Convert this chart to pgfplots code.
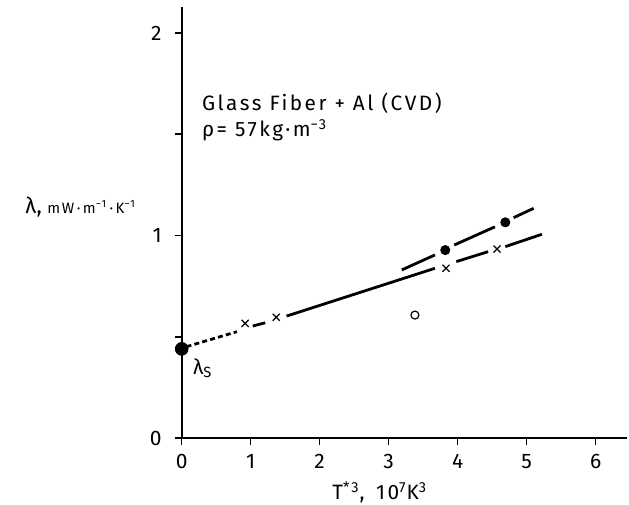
\documentclass[border=0pt]{standalone}
\usepackage{fontspec}
\setmainfont{Fira Sans}
\newfontfamily\spaced[LetterSpace=12]{Fira Sans}
\usepackage{pgfplots}
\pgfplotsset{compat=1.18}
\begin{document}
\begin{tikzpicture}
\useasboundingbox (-90.85pt,-33.5pt) rectangle (223.65pt,219pt);
\begin{axis}[
  at={(0pt,0pt)}, anchor=south west,
  x=34.5pt, y=101.25pt,
  xmin=0, xmax=6.45, ymin=0, ymax=2.13,
  axis x line=bottom, axis y line=left,
  axis line style={line width=1pt, -},
  xtick={0,1,2,3,4,5,6},
  ytick={0,0.5,1,1.5,2}, yticklabels={0,,1,,2},
  tick style={line width=0.8pt, black},
  tick align=outside, major tick length=3.5pt,
  ticklabel style={font=\fontsize{10.5}{12}\selectfont},
  yticklabel style={xshift=-3pt},
  xticklabel style={yshift=-1pt},
  /pgf/number format/assume math mode=true,
  clip=false,
]
% lower line (x markers)
\addplot[line width=1.4pt, dash pattern=on 2.5pt off 1.6pt] coordinates {(0.07,0.451) (0.80,0.525)};
\addplot[line width=1.4pt] coordinates {(1.03,0.553) (1.21,0.569)};
\addplot[line width=1.4pt] coordinates {(1.52,0.602) (3.67,0.838)};
\addplot[line width=1.4pt] coordinates {(3.98,0.871) (4.44,0.920)};
\addplot[line width=1.4pt] coordinates {(4.69,0.945) (5.22,1.006)};
% upper line (filled dots)
\addplot[line width=1.4pt] coordinates {(3.19,0.830) (3.67,0.904)};
\addplot[line width=1.4pt] coordinates {(3.95,0.953) (4.54,1.043)};
\addplot[line width=1.4pt] coordinates {(4.81,1.088) (5.10,1.134)};
% markers
\addplot[only marks, mark=*, mark size=3.2pt] coordinates {(0,0.44)};
\addplot[only marks, mark=*, mark size=2.3pt] coordinates {(3.82,0.928) (4.69,1.065)};
\addplot[only marks, mark=x, mark size=2.5pt, line width=0.6pt] coordinates {(0.92,0.566) (1.37,0.596) (3.83,0.838) (4.57,0.933)};
\addplot[only marks, mark=o, mark size=2pt, line width=0.6pt] coordinates {(3.38,0.607)};
% texts
\node[anchor=base west, font=\spaced\fontsize{10.4}{11}\selectfont, inner sep=0pt] at (axis cs:0.29,1.615) {Glass Fiber + Al (CVD)};
\node[anchor=base west, font=\spaced\fontsize{10.4}{11}\selectfont, inner sep=0pt] at (axis cs:0.29,1.49) {ρ= 57kg·m\textsuperscript{−3}};
\node[anchor=west, font=\fontsize{10.5}{11}\selectfont, inner sep=0pt] at (axis cs:0.16,0.346) {λ\textsubscript{S}};
\node[anchor=base west, inner sep=0pt] at (axis cs:-2.27,1.11) {{\fontsize{11}{12}\selectfont λ,} {\spaced\fontsize{7.5}{9}\selectfont mW\,·\,m\textsuperscript{−1}\,·\,K\textsuperscript{−1}}};
\node[anchor=base, font=\spaced\fontsize{10.4}{11}\selectfont, inner sep=0pt] at (axis cs:2.87,-0.306) {T\textsuperscript{*3}, \,10\textsuperscript{7}K\textsuperscript{3}};
\end{axis}
\end{tikzpicture}
\end{document}
